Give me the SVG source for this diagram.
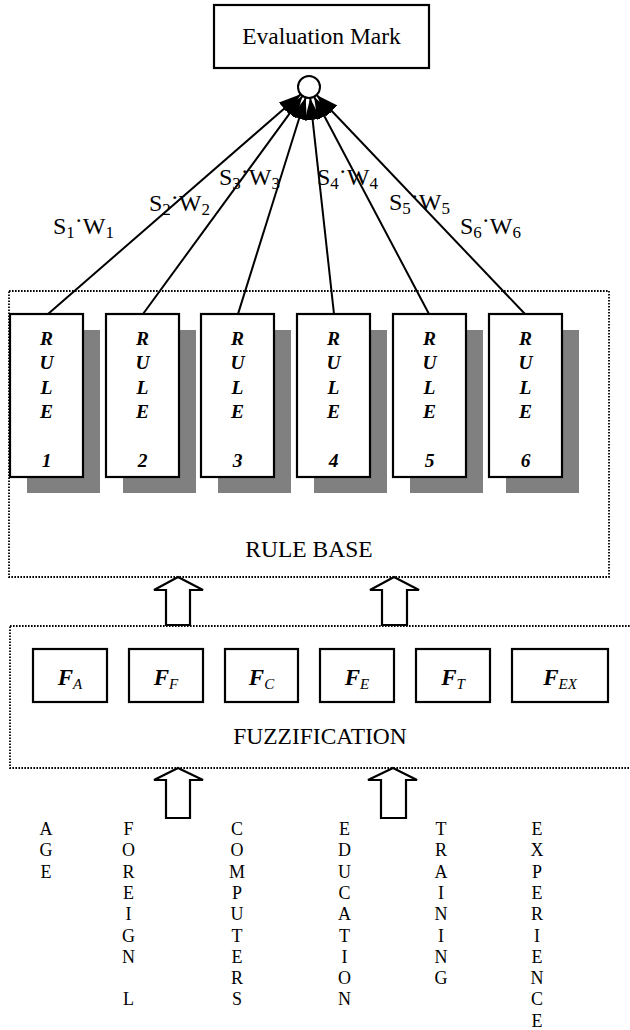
<svg xmlns="http://www.w3.org/2000/svg" width="630" height="1030" viewBox="0 0 630 1030">
  <style>
    text { font-family: "Liberation Serif", "Times New Roman", serif; fill: #000; }
    .lbl { font-size: 23.5px; text-anchor: middle; }
    .sw { font-size: 24px; }
    .sub { font-size: 17px; }
    .box { fill: #fff; stroke: #000; stroke-width: 2.2; }
    .shadow { fill: #808080; }
    .frame { fill: none; stroke: #000; stroke-width: 1.8; stroke-dasharray: 1.6 1.4; }
    .rule { font-size: 19.5px; font-weight: bold; font-style: italic; text-anchor: middle; }
    .fz { font-size: 23px; font-weight: bold; font-style: italic; text-anchor: middle; }
    .fzs { font-size: 15px; font-weight: normal; font-style: italic; }
    .edge { stroke: #000; stroke-width: 2; fill: none; marker-end: url(#head); }
    .block { fill: #fff; stroke: #000; stroke-width: 2.2; stroke-linejoin: miter; }
    .vert { font-size: 18px; text-anchor: middle; }
  </style>
  <defs>
    <marker id="head" markerUnits="userSpaceOnUse" markerWidth="22" markerHeight="16" refX="22" refY="8" orient="auto">
      <path d="M0,0 L22,8 L0,16 Z" fill="#000"/>
    </marker>
  </defs>

  <!-- output node -->
  <g id="evaluation-mark">
    <rect class="box" x="214" y="5" width="215" height="63"/>
    <text class="lbl" x="321.5" y="44">Evaluation Mark</text>
  </g>

  <!-- rule base frame -->
  <g id="rule-base">
    <rect class="frame" x="9" y="291" width="600" height="286"/>
    <text class="lbl" x="309" y="557">RULE BASE</text>
  </g>

  <!-- rules -->
  <g id="rule-1">
    <rect class="shadow" x="27" y="330" width="73" height="163"/>
    <rect class="box" x="10" y="314" width="73" height="163"/>
    <text class="rule"><tspan x="46.5" y="345">R</tspan><tspan x="46.5" y="369">U</tspan><tspan x="46.5" y="394">L</tspan><tspan x="46.5" y="418">E</tspan><tspan x="46.5" y="467">1</tspan></text>
  </g>
  <g id="rule-2">
    <rect class="shadow" x="123" y="330" width="73" height="163"/>
    <rect class="box" x="106" y="314" width="73" height="163"/>
    <text class="rule"><tspan x="142.5" y="345">R</tspan><tspan x="142.5" y="369">U</tspan><tspan x="142.5" y="394">L</tspan><tspan x="142.5" y="418">E</tspan><tspan x="142.5" y="467">2</tspan></text>
  </g>
  <g id="rule-3">
    <rect class="shadow" x="218" y="330" width="73" height="163"/>
    <rect class="box" x="201" y="314" width="73" height="163"/>
    <text class="rule"><tspan x="237.5" y="345">R</tspan><tspan x="237.5" y="369">U</tspan><tspan x="237.5" y="394">L</tspan><tspan x="237.5" y="418">E</tspan><tspan x="237.5" y="467">3</tspan></text>
  </g>
  <g id="rule-4">
    <rect class="shadow" x="314" y="330" width="73" height="163"/>
    <rect class="box" x="297" y="314" width="73" height="163"/>
    <text class="rule"><tspan x="333.5" y="345">R</tspan><tspan x="333.5" y="369">U</tspan><tspan x="333.5" y="394">L</tspan><tspan x="333.5" y="418">E</tspan><tspan x="333.5" y="467">4</tspan></text>
  </g>
  <g id="rule-5">
    <rect class="shadow" x="410" y="330" width="73" height="163"/>
    <rect class="box" x="393" y="314" width="73" height="163"/>
    <text class="rule"><tspan x="429.5" y="345">R</tspan><tspan x="429.5" y="369">U</tspan><tspan x="429.5" y="394">L</tspan><tspan x="429.5" y="418">E</tspan><tspan x="429.5" y="467">5</tspan></text>
  </g>
  <g id="rule-6">
    <rect class="shadow" x="506" y="330" width="73" height="163"/>
    <rect class="box" x="489" y="314" width="73" height="163"/>
    <text class="rule"><tspan x="525.5" y="345">R</tspan><tspan x="525.5" y="369">U</tspan><tspan x="525.5" y="394">L</tspan><tspan x="525.5" y="418">E</tspan><tspan x="525.5" y="467">6</tspan></text>
  </g>

  <!-- weighted connectors from rules to the summing junction -->
  <g id="connectors">
    <line class="edge" x1="48" y1="314" x2="300.7" y2="94.2"/>
    <line class="edge" x1="143" y1="314" x2="302.5" y2="95.9"/>
    <line class="edge" x1="238" y1="314" x2="305.7" y2="97.5"/>
    <line class="edge" x1="334" y1="314" x2="310.2" y2="97.9"/>
    <line class="edge" x1="429" y1="314" x2="314.1" y2="96.7"/>
    <line class="edge" x1="525" y1="314" x2="316.6" y2="95"/>
    <!-- block arrows between layers -->
    <polygon class="block" points="178,577 203,590 190,590 190,625 166,625 166,590 154,590"/>
    <polygon class="block" points="394,577 419,590 407,590 407,625 382,625 382,590 370,590"/>
    <polygon class="block" points="178,768 203,780 190,780 190,818 166,818 166,780 154,780"/>
    <polygon class="block" points="393,768 417,780 406,780 406,818 381,818 381,780 368,780"/>
  </g>

  <!-- summing junction -->
  <g id="junction">
    <circle cx="309" cy="87" r="11" fill="#fff" stroke="#000" stroke-width="2"/>
  </g>

  <!-- weight labels -->
  <g id="weights">
    <text class="sw" x="53" y="234">S<tspan class="sub" dy="4">1</tspan><tspan dy="-10">·</tspan><tspan dy="6">W</tspan><tspan class="sub" dy="4">1</tspan></text>
    <text class="sw" x="149" y="211">S<tspan class="sub" dy="4">2</tspan><tspan dy="-10">·</tspan><tspan dy="6">W</tspan><tspan class="sub" dy="4">2</tspan></text>
    <text class="sw" x="219" y="185">S<tspan class="sub" dy="4">3</tspan><tspan dy="-10">·</tspan><tspan dy="6">W</tspan><tspan class="sub" dy="4">3</tspan></text>
    <text class="sw" x="317" y="185">S<tspan class="sub" dy="4">4</tspan><tspan dy="-10">·</tspan><tspan dy="6">W</tspan><tspan class="sub" dy="4">4</tspan></text>
    <text class="sw" x="389" y="210">S<tspan class="sub" dy="4">5</tspan><tspan dy="-10">·</tspan><tspan dy="6">W</tspan><tspan class="sub" dy="4">5</tspan></text>
    <text class="sw" x="460" y="234">S<tspan class="sub" dy="4">6</tspan><tspan dy="-10">·</tspan><tspan dy="6">W</tspan><tspan class="sub" dy="4">6</tspan></text>
  </g>

  <!-- fuzzification frame -->
  <g id="fuzzification">
    <rect class="frame" x="10" y="626" width="630" height="142"/>
    <text class="lbl" x="320" y="744">FUZZIFICATION</text>
  </g>

  <!-- fuzzifiers -->
  <g id="f-a">
    <rect class="box" x="33" y="649" width="74" height="53"/>
    <text class="fz" x="70" y="685">F<tspan class="fzs" dy="4">A</tspan></text>
  </g>
  <g id="f-f">
    <rect class="box" x="129" y="649" width="74" height="53"/>
    <text class="fz" x="166" y="685">F<tspan class="fzs" dy="4">F</tspan></text>
  </g>
  <g id="f-c">
    <rect class="box" x="225" y="649" width="73" height="53"/>
    <text class="fz" x="261.5" y="685">F<tspan class="fzs" dy="4">C</tspan></text>
  </g>
  <g id="f-e">
    <rect class="box" x="320" y="649" width="74" height="53"/>
    <text class="fz" x="357" y="685">F<tspan class="fzs" dy="4">E</tspan></text>
  </g>
  <g id="f-t">
    <rect class="box" x="416" y="649" width="74" height="53"/>
    <text class="fz" x="453" y="685">F<tspan class="fzs" dy="4">T</tspan></text>
  </g>
  <g id="f-ex">
    <rect class="box" x="512" y="649" width="96" height="53"/>
    <text class="fz" x="560" y="685">F<tspan class="fzs" dy="4">EX</tspan></text>
  </g>

  <!-- input variables, written vertically -->
  <g id="inputs">
    <text class="vert"><tspan x="46" y="835">A</tspan><tspan x="46" dy="21.3">G</tspan><tspan x="46" dy="21.3">E</tspan></text>
    <text class="vert"><tspan x="128.5" y="835">F</tspan><tspan x="128.5" dy="21.3">O</tspan><tspan x="128.5" dy="21.3">R</tspan><tspan x="128.5" dy="21.3">E</tspan><tspan x="128.5" dy="21.3">I</tspan><tspan x="128.5" dy="21.3">G</tspan><tspan x="128.5" dy="21.3">N</tspan><tspan x="128.5" dy="42.6">L</tspan></text>
    <text class="vert"><tspan x="237" y="835">C</tspan><tspan x="237" dy="21.3">O</tspan><tspan x="237" dy="21.3">M</tspan><tspan x="237" dy="21.3">P</tspan><tspan x="237" dy="21.3">U</tspan><tspan x="237" dy="21.3">T</tspan><tspan x="237" dy="21.3">E</tspan><tspan x="237" dy="21.3">R</tspan><tspan x="237" dy="21.3">S</tspan></text>
    <text class="vert"><tspan x="344.5" y="835">E</tspan><tspan x="344.5" dy="21.3">D</tspan><tspan x="344.5" dy="21.3">U</tspan><tspan x="344.5" dy="21.3">C</tspan><tspan x="344.5" dy="21.3">A</tspan><tspan x="344.5" dy="21.3">T</tspan><tspan x="344.5" dy="21.3">I</tspan><tspan x="344.5" dy="21.3">O</tspan><tspan x="344.5" dy="21.3">N</tspan></text>
    <text class="vert"><tspan x="441" y="835">T</tspan><tspan x="441" dy="21.3">R</tspan><tspan x="441" dy="21.3">A</tspan><tspan x="441" dy="21.3">I</tspan><tspan x="441" dy="21.3">N</tspan><tspan x="441" dy="21.3">I</tspan><tspan x="441" dy="21.3">N</tspan><tspan x="441" dy="21.3">G</tspan></text>
    <text class="vert"><tspan x="537" y="835">E</tspan><tspan x="537" dy="21.3">X</tspan><tspan x="537" dy="21.3">P</tspan><tspan x="537" dy="21.3">E</tspan><tspan x="537" dy="21.3">R</tspan><tspan x="537" dy="21.3">I</tspan><tspan x="537" dy="21.3">E</tspan><tspan x="537" dy="21.3">N</tspan><tspan x="537" dy="21.3">C</tspan><tspan x="537" dy="21.3">E</tspan></text>
  </g>
</svg>
